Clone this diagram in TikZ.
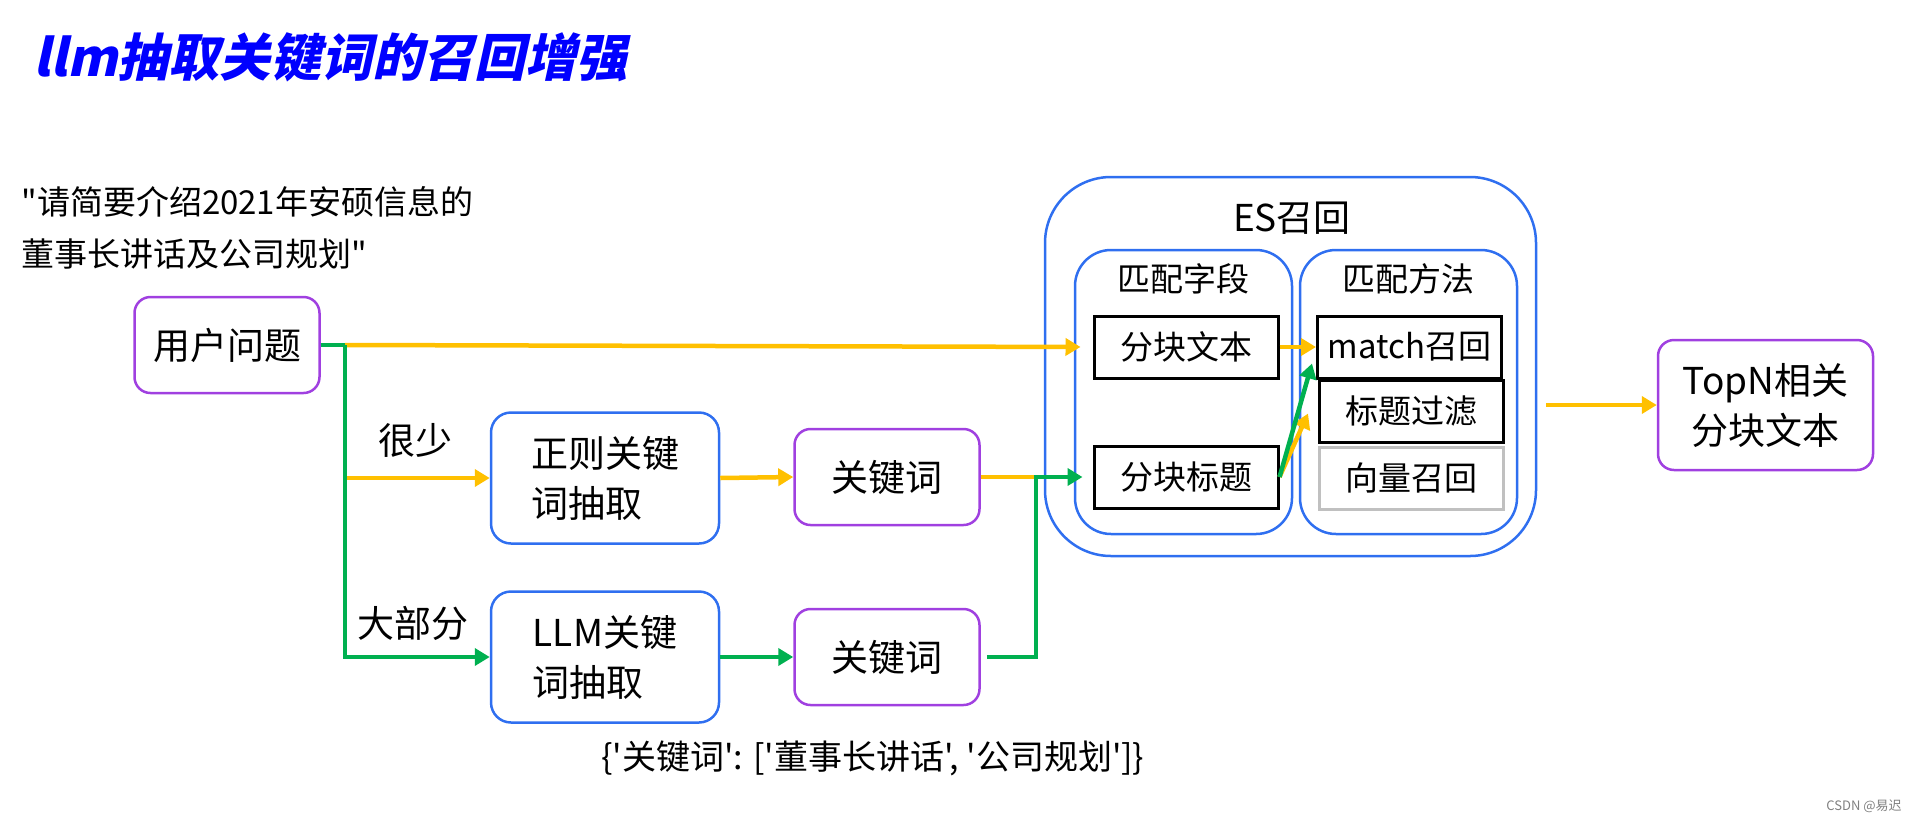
\documentclass[tikz,border=0pt]{standalone}
\usepackage{fontspec}
\setmainfont[Ligatures=TeXOff]{Noto Sans CJK SC}
\newfontfamily\titlefont[FakeSlant=0.22]{Noto Sans CJK SC}
\usetikzlibrary{arrows.meta,positioning,calc}
\definecolor{titleblue}{HTML}{0000FF}
\definecolor{kwpurple}{HTML}{A040E0}
\definecolor{esblue}{HTML}{2F6FF0}
\definecolor{flowyellow}{HTML}{FFC000}
\definecolor{flowgreen}{HTML}{00B050}
\definecolor{vecgray}{HTML}{C0C0C0}
\tikzset{
  >={Triangle[length=7.5pt,width=8.5pt]},
  big/.style    = {font=\fontsize{18.5pt}{25pt}\selectfont},
  small/.style  = {font=\fontsize{16.5pt}{26pt}\selectfont},
  query/.style  = {draw=kwpurple, line width=1.25pt, rounded corners=8pt, big, align=center,
                   inner sep=0pt, minimum width=92.5pt, minimum height=48pt},
  extract/.style= {draw=esblue, line width=1.25pt, rounded corners=10pt, big, align=left,
                   inner sep=0pt, minimum width=114pt, minimum height=65.5pt},
  group/.style  = {draw=esblue, line width=1.25pt, inner sep=0pt},
  field/.style  = {draw, line width=1.5pt, small, inner sep=0pt, minimum width=92pt, minimum height=31pt},
  yline/.style  = {flowyellow, line width=2.25pt},
  gline/.style  = {flowgreen, line width=2.25pt},
  yflow/.style  = {yline, ->},
  gflow/.style  = {gline, ->}
}
\begin{document}
\begin{tikzpicture}[x=0.5pt,y=-0.5pt]
  \useasboundingbox (0,0) rectangle (1916,820);
  \node[anchor=base west, inner sep=0pt, text=titleblue,
        font=\titlefont\bfseries\fontsize{25.5pt}{27pt}\selectfont] (title) at (33,76) {llm抽取关键词的召回增强};
  \node[small, anchor=north west, align=left, inner sep=0pt] (question) at (21,186)
       {"请简要介绍2021年安硕信息的\\董事长讲话及公司规划"};

  \node[query] (user) at (227,345) {用户问题};
  \node[extract] (regex) at (605,478) {正则关键\\词抽取};
  \node[extract] (llm) at (605,657) {LLM关键\\词抽取};
  \node[query] (kw1) at (887,477) {关键词};
  \node[query] (kw2) at (887,657) {关键词};
  \node[big] (few) at (415,440) {很少};
  \node[big] (most) at (413,623) {大部分};
  \node[small, font=\fontsize{17pt}{20pt}\selectfont] (kwdict) at (873,758)
       {\{'关键词': ['董事长讲话', '公司规划']\}};

  \node[group, rounded corners=33pt, minimum width=245.5pt, minimum height=189.5pt] (es) at (1290.5,366.5) {};
  \node[group, rounded corners=18pt, minimum width=108.5pt, minimum height=142pt] (fields) at (1183.5,392) {};
  \node[group, rounded corners=18pt, minimum width=108.5pt, minimum height=142pt] (methods) at (1408.5,392) {};
  \node[big] (esname) at (1292,218) {ES召回};
  \node[small] (fieldsname) at (1183,279) {匹配字段};
  \node[small] (methodsname) at (1408,279) {匹配方法};
  \node[field] (chunktext) at (1186,347) {分块文本};
  \node[field] (chunktitle) at (1186,477) {分块标题};
  \node[field] (match) at (1409.5,347) {match召回};
  \node[field] (filter) at (1411.5,411.5) {标题过滤};
  \node[field, draw=vecgray] (vector) at (1411.5,478) {向量召回};
  \node[query, minimum width=107.5pt, minimum height=65pt] (topn) at (1765.5,405) {TopN相关\\分块文本};

  \node[anchor=east, inner sep=0pt, text=gray, font=\fontsize{6.5pt}{7pt}\selectfont] (csdn) at (1902,806) {CSDN @易迟};

  \coordinate (split) at (345,345);
  \coordinate (merge) at (1036,477);
  \draw[yflow, shorten >=6pt] (split) -- (chunktext.west);
  \draw[yflow] (split |- regex.west) -- (regex.west);
  \draw[yflow] (regex.east) -- (kw1.west);
  \draw[yline] (kw1.east) -- (merge);
  \draw[gline] (user.east) -- (split);
  \draw[gflow] (split) |- (llm.west);
  \draw[gflow] (llm.east) -- (kw2.west);
  \draw[gflow, shorten <=3pt, shorten >=5pt] (kw2.east) -| (merge) -- (chunktitle.west);
  \draw[yflow] (chunktext) -- (match);
  \draw[yflow] (chunktitle.east) -- ($(filter.west)+(-10,2)$);
  \draw[gflow] (chunktitle.east) -- ($(match.south west)+(-4,-16)$);
  \draw[yflow, shorten <=4.5pt] (es.east |- topn.west) -- (topn.west);
\end{tikzpicture}
\end{document}
